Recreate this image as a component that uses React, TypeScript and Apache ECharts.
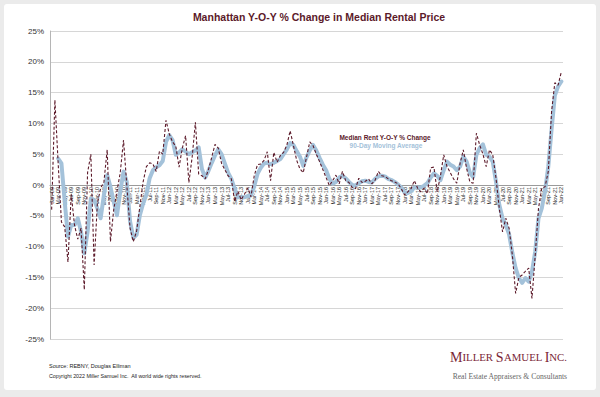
import React, { useEffect, useRef } from "react";
import * as echarts from "echarts";

const MONTH_NAMES = ["Jan", "Feb", "Mar", "Apr", "May", "Jun", "Jul", "Aug", "Sep", "Oct", "Nov", "Dec"];
const YEARS = ["09", "10", "11", "12", "13", "14", "15", "16", "17", "18", "19", "20", "21", "22"];
const categories: string[] = [];
YEARS.forEach((y, yi) => {
  MONTH_NAMES.forEach((m, mi) => {
    if (yi === YEARS.length - 1 && mi > 0) return;
    categories.push(`${m}-${y}`);
  });
});

const yoyChange = [
  -4.0, 13.8, 3.5, -6.0, -6.8, -12.5, -1.5, -6.5, -8.8, -7.0,
  -17.0, 2.0, 5.0, -13.0, -3.0, -0.5, 0.5, 5.7, -9.2, -4.0,
  -1.0, 2.0, 7.3, 0.0, -7.0, -9.2, -7.5, -3.5, 0.5, 3.0,
  3.6, 3.4, 2.2, 5.5, 5.0, 10.5, 8.3, 7.0, 6.3, 2.9,
  6.0, 8.0, 0.4, 4.5, 10.2, 1.8, 1.5, 1.0, 2.5, 4.5,
  6.6, 6.0, 3.5, 2.5, 1.5, 1.0, -2.7, -1.0, -2.4, -1.5,
  -0.5, -1.9, 1.5, 3.3, 3.4, 4.0, 5.4, 0.7, 5.3, 3.7,
  4.8, 5.3, 6.5, 8.8, 6.4, 4.0, 2.6, 2.0, 4.5, 7.0,
  6.4, 5.0, 3.8, 2.5, 1.2, -0.1, 0.7, 1.6, 0.2, 2.2,
  0.7, 0.4, -0.4, -0.6, 1.1, 0.4, 0.6, 1.0, 0.2, 0.8,
  2.2, 1.5, 1.4, 1.0, 0.7, 0.5, 0.2, -0.6, -1.6, -1.1,
  -0.6, 0.7, -0.5, -1.1, -0.5, -1.4, 2.8, 2.9, -1.1, 1.5,
  4.9, 3.0, 2.0, 1.0, 0.3, 3.5, 5.7, 2.7, 0.5, 0.3,
  8.4, 6.5, 5.0, 3.0, 5.7, 4.9, 1.1, -3.8, -7.6, -5.4,
  -7.0, -11.4, -17.6, -15.0, -14.6, -14.0, -13.5, -18.4, -11.4, -3.8,
  -0.5, -0.3, 2.2, 11.9, 16.6, 16.2, 18.4,
];

const movingAvg = [
  null, null, 4.3, 3.5, -2.7, -8.4, -6.5, -6.5, -5.4, -7.6,
  -11.1, -7.6, -2.2, -2.4, -3.8, -5.4, -1.6, 1.6, -0.3, -2.7,
  -4.9, -1.1, 2.2, 0.5, -5.9, -8.6, -8.1, -4.9, -3.0, -1.6,
  1.1, 2.4, 2.9, 3.2, 3.9, 7.0, 8.1, 7.3, 4.9, 5.3,
  5.8, 5.4, 5.0, 5.3, 5.6, 6.1, 2.6, 1.2, 2.3, 3.6,
  4.8, 5.8, 5.0, 3.5, 2.0, 1.0, -0.6, -2.0, -2.0, -2.0,
  -1.8, -1.7, -0.2, 1.8, 2.8, 3.5, 3.6, 3.4, 3.6, 3.9,
  4.2, 5.0, 5.8, 6.8, 6.5, 5.5, 4.6, 3.1, 4.5, 5.6,
  6.5, 5.6, 4.4, 3.3, 2.4, 1.0, 0.2, 0.5, 1.2, 1.5,
  1.1, 0.5, 0.0, -0.1, 0.3, 0.6, 0.7, 0.5, 0.4, 1.0,
  1.4, 1.5, 1.4, 1.0, 0.8, 0.5, 0.1, -0.4, -1.2, -1.3,
  -1.0, -0.4, -0.4, -0.4, -0.1, 0.3, 1.2, 1.9, 1.5, 0.8,
  2.4, 3.8, 3.3, 3.0, 2.4, 3.0, 4.6, 3.8, 2.0, 1.3,
  4.9, 6.0, 6.6, 4.9, 4.6, 3.8, 0.5, -3.2, -5.4, -6.5,
  -8.0, -11.0, -13.5, -15.1, -15.9, -15.1, -15.7, -14.1, -10.8, -5.4,
  -3.8, -1.0, 3.0, 9.0, 14.5, 16.0, 16.8,
];

const SERIES_NAMES = ["Median Rent Y-O-Y % Change", "90-Day Moving Average"];
const TITLE = "Manhattan Y-O-Y % Change in Median Rental Price";

const MAROON = "#5c1a2a";
const BLUE = "#a4c2da";
const LOGO = "#7a2636";

export default function App() {
  const ref = useRef<HTMLDivElement>(null);
  useEffect(() => {
    document.body.style.margin = "0";
    const chart = echarts.init(ref.current!, null, { renderer: "svg" });
    chart.setOption({
      animation: false,
      backgroundColor: "transparent",
      textStyle: { fontFamily: "Liberation Sans, Arial, sans-serif" },
      grid: { left: 50, right: 37, top: 31, bottom: 58, containLabel: false },
      xAxis: {
        type: "category",
        data: categories,
        boundaryGap: true,
        position: "bottom",
        offset: -154,
        axisLine: { onZero: false, lineStyle: { color: "#9a9a9a", width: 1 } },
        axisTick: { show: false },
        axisLabel: {
          interval: 1,
          rotate: 90,
          fontSize: 5.5,
          color: "#222",
          margin: 2,
        },
        splitLine: { show: false },
      },
      yAxis: {
        type: "value",
        min: -25,
        max: 25,
        interval: 5,
        axisLine: { show: true, lineStyle: { color: "#b5b5b5", width: 1 } },
        axisTick: { show: false },
        axisLabel: { formatter: "{value}%", fontSize: 8, color: "#333", margin: 6 },
        splitLine: { lineStyle: { color: "#d6d6d6", width: 1 } },
      },
      series: [
        {
          name: SERIES_NAMES[1],
          type: "line",
          data: movingAvg,
          symbol: "none",
          connectNulls: false,
          lineStyle: { color: BLUE, width: 4, cap: "round", join: "round" },
          z: 2,
        },
        {
          name: SERIES_NAMES[0],
          type: "line",
          data: yoyChange,
          symbol: "none",
          lineStyle: { color: MAROON, width: 1.1, type: [3, 2] },
          z: 3,
        },
      ],
      graphic: [
        {
          type: "text",
          x: 319,
          y: 17,
          style: {
            text: TITLE,
            fill: MAROON,
            font: "bold 10.5px 'Liberation Sans', Arial, sans-serif",
            align: "center",
            verticalAlign: "middle",
          },
        },
        {
          type: "text",
          x: 385,
          y: 137,
          z: 10,
          style: {
            text: SERIES_NAMES[0],
            fill: MAROON,
            font: "bold 6.5px 'Liberation Sans', Arial, sans-serif",
            align: "center",
            verticalAlign: "middle",
          },
        },
        {
          type: "text",
          x: 386,
          y: 145.5,
          z: 10,
          style: {
            text: SERIES_NAMES[1],
            fill: BLUE,
            font: "bold 6.5px 'Liberation Sans', Arial, sans-serif",
            align: "center",
            verticalAlign: "middle",
          },
        },
        {
          type: "text",
          x: 49,
          y: 366,
          style: {
            text: "Source: REBNY, Douglas Elliman",
            fill: "#222",
            font: "5.5px 'Liberation Sans', Arial, sans-serif",
            verticalAlign: "middle",
          },
        },
        {
          type: "text",
          x: 49,
          y: 376,
          style: {
            text: "Copyright 2022 Miller Samuel Inc.  All world wide rights reserved.",
            fill: "#222",
            font: "5.3px 'Liberation Sans', Arial, sans-serif",
            verticalAlign: "middle",
          },
        },
        {
          type: "text",
          x: 567,
          y: 357,
          style: {
            text: "{a|M}{b|ILLER }{a|S}{b|AMUEL }{a|I}{b|NC.}",
            align: "right",
            verticalAlign: "middle",
            fill: LOGO,
            font: "14px 'Liberation Serif', serif",
            rich: {
              a: { font: "14px 'Liberation Serif', serif", fill: LOGO },
              b: { font: "10.8px 'Liberation Serif', serif", fill: LOGO },
            },
          },
        },
        {
          type: "text",
          x: 567,
          y: 376,
          style: {
            text: "Real Estate Appraisers & Consultants",
            fill: "#666",
            font: "7.6px 'Liberation Serif', serif",
            align: "right",
            verticalAlign: "middle",
          },
        },
      ],
    });
    return () => chart.dispose();
  }, []);
  return (
    <div style={{ position: "relative", width: 600, height: 397, background: "#ebebeb", overflow: "hidden" }}>
      <div
        style={{
          position: "absolute",
          left: 4,
          top: 4,
          width: 592,
          height: 386,
          background: "#ffffff",
          borderRadius: 3,
        }}
      />
      <div ref={ref} style={{ position: "absolute", left: 0, top: 0, width: 600, height: 397 }} />
    </div>
  );
}
